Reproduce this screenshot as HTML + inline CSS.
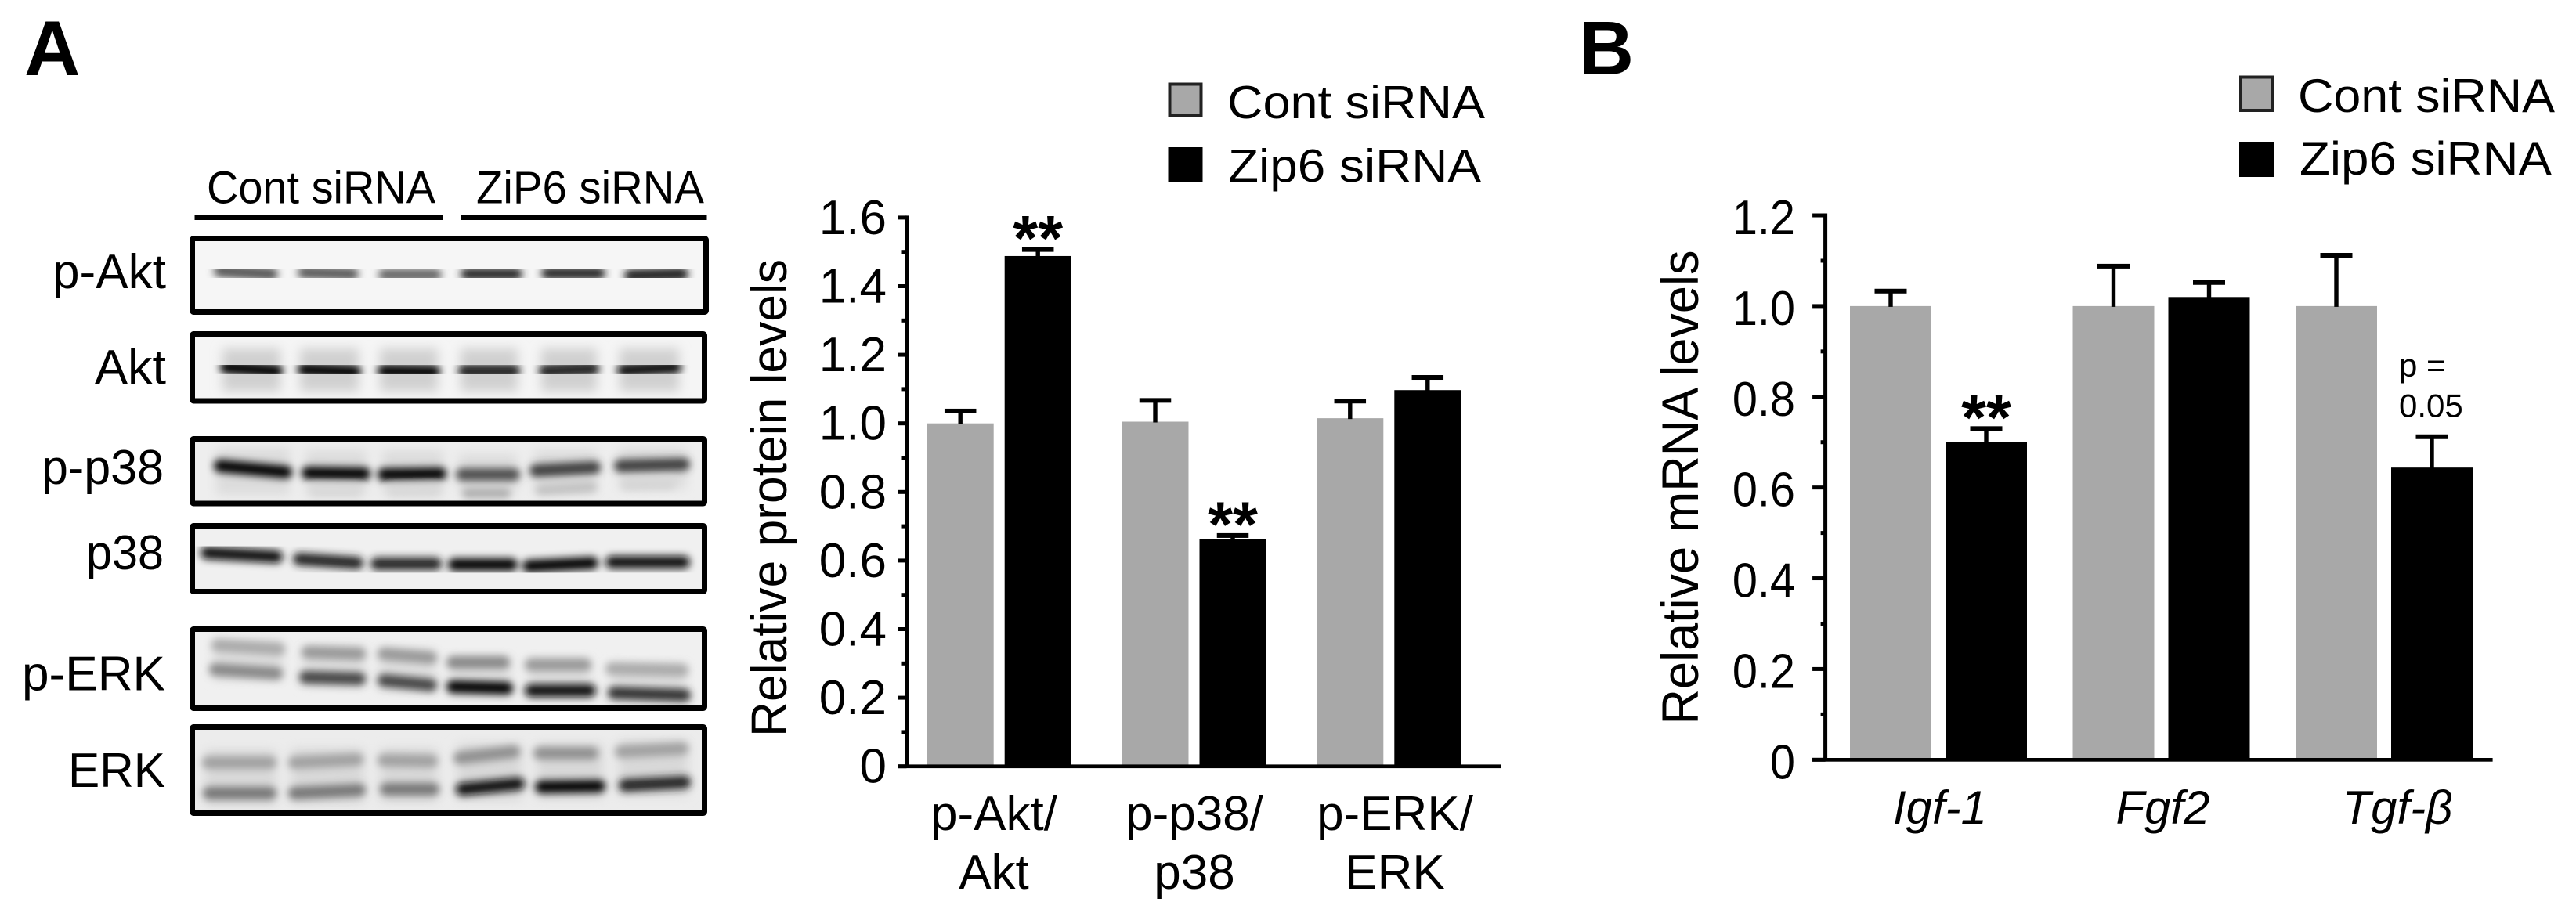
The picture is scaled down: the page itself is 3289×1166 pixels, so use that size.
<!DOCTYPE html>
<html lang="en">
<head>
<meta charset="utf-8">
<title>Zip6 siRNA western blots and bar charts</title>
<style>
html,body{margin:0;padding:0;background:#fff;}
body{width:3289px;height:1166px;overflow:hidden;}
svg{display:block;}
text{font-family:"Liberation Sans",Arial,sans-serif;fill:#000;}
.band{fill:none;stroke-linecap:round;stroke-width:16;}
.frame{fill:none;stroke:#000;stroke-width:7;}
</style>
</head>
<body>
<svg id="figure" xmlns="http://www.w3.org/2000/svg" width="3289" height="1166" viewBox="0 0 3289 1166">
<defs>
<filter id="blur" x="-20%" y="-50%" width="140%" height="200%"><feGaussianBlur stdDeviation="5"/></filter>
<filter id="smear" x="-20%" y="-50%" width="140%" height="200%"><feGaussianBlur stdDeviation="7"/></filter>
</defs>

<text x="31" y="96" font-size="99" font-weight="bold">A</text>
<text x="2016" y="95" font-size="97" font-weight="bold">B</text>

<g>
<text x="264" y="259.5" font-size="58" textLength="292" lengthAdjust="spacingAndGlyphs">Cont siRNA</text>
<text x="608" y="259.5" font-size="58" textLength="291" lengthAdjust="spacingAndGlyphs">ZiP6 siRNA</text>
<rect x="248.5" y="274" width="316.5" height="7"/>
<rect x="588.5" y="274" width="314" height="7"/>
</g>

<g font-size="62">
<text x="67" y="368" textLength="145" lengthAdjust="spacingAndGlyphs">p-Akt</text>
<text x="121" y="490" textLength="91" lengthAdjust="spacingAndGlyphs">Akt</text>
<text x="53" y="618" textLength="156" lengthAdjust="spacingAndGlyphs">p-p38</text>
<text x="110" y="727" textLength="99" lengthAdjust="spacingAndGlyphs">p38</text>
<text x="28" y="881.5" textLength="183" lengthAdjust="spacingAndGlyphs">p-ERK</text>
<text x="87" y="1005" textLength="124" lengthAdjust="spacingAndGlyphs">ERK</text>
</g>

<g>
<rect x="245" y="304" width="657" height="95" fill="#f6f6f6"/>
<g filter="url(#blur)" class="band">
<path d="M281 346L347 350" stroke="#555"/>
<path d="M388 348L450 350" stroke="#5a5a5a"/>
<path d="M491 351L556 351" stroke="#666"/>
<path d="M596 350L659 350" stroke="#2c2c2c"/>
<path d="M699 349L765 349" stroke="#2c2c2c"/>
<path d="M805 352L871 350" stroke="#1c1c1c"/>
</g>
<rect class="frame" x="245.5" y="304.5" width="656" height="94" rx="2"/>
</g>

<g>
<rect x="245" y="426" width="655" height="86" fill="#f5f5f5"/>
<g filter="url(#smear)" fill="#d0d0d0">
<rect x="284" y="445" width="74" height="55"/>
<rect x="383" y="445" width="75" height="55"/>
<rect x="485" y="445" width="74" height="55"/>
<rect x="588" y="445" width="73" height="55"/>
<rect x="691" y="445" width="71" height="55"/>
<rect x="791" y="445" width="76" height="55"/>
</g>
<g filter="url(#blur)" class="band">
<path d="M289 469L353 474" stroke="#000"/>
<path d="M388 472L453 475" stroke="#000"/>
<path d="M490 474L554 475" stroke="#000"/>
<path d="M593 474L656 474" stroke="#1a1a1a"/>
<path d="M696 474L757 471" stroke="#1a1a1a"/>
<path d="M796 473L862 469" stroke="#111"/>
</g>
<rect class="frame" x="245.5" y="426.5" width="654" height="85.5" rx="2"/>
</g>

<g>
<rect x="245" y="560" width="655" height="83" fill="#eeeeee"/>
<g filter="url(#smear)" fill="#dcdcdc">
<rect x="276" y="572" width="94" height="60"/>
<rect x="390" y="575" width="78" height="58"/>
<rect x="488" y="575" width="78" height="58"/>
<rect x="586" y="580" width="74" height="50"/>
<rect x="682" y="575" width="80" height="55"/>
<rect x="790" y="572" width="86" height="52"/>
</g>
<g filter="url(#blur)" class="band">
<path d="M281 595L365 603" stroke="#000"/>
<path d="M393 604L465 605" stroke="#000"/>
<path d="M490 606L562 605" stroke="#000"/>
<path d="M590 606L656 606" stroke="#4d4d4d"/>
<path d="M684 601L759 597" stroke="#3c3c3c"/>
<path d="M792 595L873 593" stroke="#3c3c3c"/>
<path d="M596 630L646 630" stroke="#aaa" style="stroke-width:12"/>
<path d="M690 626L756 622" stroke="#c0c0c0" style="stroke-width:12"/>
<path d="M799 620L856 619" stroke="#d4d4d4" style="stroke-width:12"/>
<path d="M402 628L455 628" stroke="#d8d8d8" style="stroke-width:12"/>
<path d="M502 628L556 627" stroke="#d8d8d8" style="stroke-width:12"/>
</g>
<rect class="frame" x="245.5" y="560.5" width="654" height="82.5" rx="2"/>
</g>

<g>
<rect x="245" y="671" width="655" height="85" fill="#f0f0f0"/>
<g filter="url(#blur)" class="band">
<path d="M264 706L353 711" stroke="#111"/>
<path d="M382 714L456 719" stroke="#222"/>
<path d="M481 720L556 720" stroke="#222"/>
<path d="M580 721L653 721" stroke="#000"/>
<path d="M675 723L756 719" stroke="#000"/>
<path d="M781 718L873 718" stroke="#111"/>
</g>
<rect class="frame" x="245.5" y="671.5" width="654" height="84" rx="2"/>
</g>

<g>
<rect x="245" y="803" width="655" height="102" fill="#f0f0f0"/>
<g filter="url(#smear)" fill="#dedede">
<rect x="272" y="818" width="90" height="50"/>
<rect x="386" y="826" width="80" height="50"/>
<rect x="484" y="830" width="72" height="52"/>
<rect x="574" y="840" width="78" height="50"/>
<rect x="674" y="842" width="80" height="50"/>
<rect x="780" y="848" width="96" height="48"/>
</g>
<g filter="url(#blur)" class="band">
<path d="M278 824L356 829" stroke="#aaa"/>
<path d="M393 833L459 835" stroke="#999"/>
<path d="M490 835L550 840" stroke="#999"/>
<path d="M578 846L643 846" stroke="#888"/>
<path d="M678 849L747 849" stroke="#999"/>
<path d="M781 854L871 856" stroke="#aaa"/>
<path d="M275 855L353 860" stroke="#888"/>
<path d="M390 865L459 867" stroke="#444"/>
<path d="M490 869L550 875" stroke="#444"/>
<path d="M578 877L647 879" stroke="#000"/>
<path d="M678 882L753 882" stroke="#111"/>
<path d="M784 885L874 888" stroke="#333"/>
</g>
<rect class="frame" x="245.5" y="803.5" width="654" height="101" rx="2"/>
</g>

<g>
<rect x="245" y="928" width="655" height="111" fill="#ececec"/>
<g filter="url(#smear)" fill="#d8d8d8">
<rect x="262" y="958" width="90" height="70"/>
<rect x="372" y="956" width="92" height="70"/>
<rect x="486" y="956" width="72" height="68"/>
<rect x="584" y="950" width="82" height="72"/>
<rect x="686" y="950" width="84" height="70"/>
<rect x="790" y="946" width="88" height="70"/>
</g>
<g filter="url(#blur)" class="band">
<path d="M266 974L345 974" stroke="#a0a0a0"/>
<path d="M376 974L456 970" stroke="#a0a0a0"/>
<path d="M490 971L551 972" stroke="#a0a0a0"/>
<path d="M587 968L656 960" stroke="#909090"/>
<path d="M689 962L756 962" stroke="#909090"/>
<path d="M793 960L871 956" stroke="#a0a0a0"/>
<path d="M267 1013L345 1013" stroke="#777"/>
<path d="M376 1013L459 1009" stroke="#777"/>
<path d="M493 1008L553 1008" stroke="#777"/>
<path d="M590 1008L662 1001" stroke="#111"/>
<path d="M691 1005L765 1004" stroke="#000"/>
<path d="M798 1003L874 999" stroke="#222"/>
</g>
<rect class="frame" x="245.5" y="928.5" width="654" height="110" rx="2"/>
</g>

<g>
<rect x="1493.5" y="107.5" width="40" height="40" fill="#a8a8a8" stroke="#222" stroke-width="4"/>
<text x="1567" y="151" font-size="59" textLength="329" lengthAdjust="spacingAndGlyphs">Cont siRNA</text>
<rect x="1491.5" y="188" width="44" height="44.5" fill="#000"/>
<text x="1568" y="232" font-size="59" textLength="323" lengthAdjust="spacingAndGlyphs">Zip6 siRNA</text>
</g>

<g>
<rect x="2861" y="98.5" width="40" height="42.5" fill="#a8a8a8" stroke="#222" stroke-width="4"/>
<text x="2934" y="143" font-size="60" textLength="328" lengthAdjust="spacingAndGlyphs">Cont siRNA</text>
<rect x="2859" y="181" width="44" height="45" fill="#000"/>
<text x="2936" y="223" font-size="60" textLength="322" lengthAdjust="spacingAndGlyphs">Zip6 siRNA</text>
</g>

<text transform="translate(1004 941) rotate(-90)" font-size="64" textLength="610" lengthAdjust="spacingAndGlyphs">Relative protein levels</text>
<text transform="translate(2168 925.5) rotate(-90)" font-size="66" textLength="606" lengthAdjust="spacingAndGlyphs">Relative mRNA levels</text>

<g id="chart-a"></g>
<g id="chart-b"></g>

<text x="3063" y="481" font-size="42">p =</text>
<text x="3063" y="532.7" font-size="42">0.05</text>
</svg>

<script>
const proteinLabelsTop = ['p-Akt/', 'p-p38/', 'p-ERK/'];
const proteinLabelsBottom = ['Akt', 'p38', 'ERK'];
const proteinCont = [1.0, 1.005, 1.015];
const proteinContErr = [0.036, 0.062, 0.05];
const proteinZip6 = [1.488, 0.662, 1.097];
const proteinZip6Err = [0.019, 0.011, 0.037];
const proteinZip6Marks = ['**', '**', ''];
const proteinTickLabels = ['0', '0.2', '0.4', '0.6', '0.8', '1.0', '1.2', '1.4', '1.6'];
const proteinTickValues = [0, 0.2, 0.4, 0.6, 0.8, 1.0, 1.2, 1.4, 1.6];
const proteinMinorTicks = [0.1, 0.3, 0.5, 0.7, 0.9, 1.1, 1.3, 1.5];

const mrnaLabels = ['Igf-1', 'Fgf2', 'Tgf-β'];
const mrnaCont = [1.0, 1.0, 1.0];
const mrnaContErr = [0.033, 0.088, 0.112];
const mrnaZip6 = [0.70, 1.02, 0.644];
const mrnaZip6Err = [0.03, 0.032, 0.068];
const mrnaZip6Marks = ['**', '', ''];
const mrnaTickLabels = ['0', '0.2', '0.4', '0.6', '0.8', '1.0', '1.2'];
const mrnaTickValues = [0, 0.2, 0.4, 0.6, 0.8, 1.0, 1.2];
const mrnaMinorTicks = [0.1, 0.3, 0.5, 0.7, 0.9, 1.1];

const NS = 'http://www.w3.org/2000/svg';
function mk(tag, attrs, parent) {
  const node = document.createElementNS(NS, tag);
  for (const k in attrs) node.setAttribute(k, attrs[k]);
  parent.appendChild(node);
  return node;
}

function drawChart(o) {
  const root = document.getElementById(o.id);
  const y = v => o.y0 - v * o.unit;
  const groupX = i => o.firstCenter + i * o.spacing;
  let el;

  o.cont.forEach((v, i) => {
    const x1 = groupX(i) - o.gap / 2 - o.barW;
    const x2 = groupX(i) + o.gap / 2;

    el = mk('rect', {x: x1, y: y(v), width: o.barW, height: o.y0 - y(v), fill: '#a8a8a8'}, root);
    
    

    el = mk('rect', {x: x2, y: y(o.zip6[i]), width: o.barW, height: o.y0 - y(o.zip6[i]), fill: '#000'}, root);
    
    

    const cx1 = x1 + o.barW / 2;
    const cx2 = x2 + o.barW / 2;
    const top1 = y(v + o.contErr[i]);
    const top2 = y(o.zip6[i] + o.zip6Err[i]);

    el = mk('rect', {x: cx1 - 2.7, y: top1, width: 5.4, height: y(v) - top1 + 1, fill: '#000'}, root);
    
    
    el = mk('rect', {x: cx1 - o.capW / 2, y: top1 - 3, width: o.capW, height: 6, fill: '#000'}, root);
    
    

    el = mk('rect', {x: cx2 - 2.7, y: top2, width: 5.4, height: y(o.zip6[i]) - top2 + 1, fill: '#000'}, root);
    
    
    el = mk('rect', {x: cx2 - o.capW / 2, y: top2 - 3, width: o.capW, height: 6, fill: '#000'}, root);
    
    

    if (o.marks[i]) {
      el = mk('text', {x: cx2, y: top2 + 14, 'font-size': 82, 'font-weight': 'bold', 'text-anchor': 'middle'}, root);
      el.textContent = o.marks[i];
      
      
    }
  });

  el = mk('rect', {x: o.axisX - 2.5, y: y(o.tickValues[o.tickValues.length - 1]) - 2.5, width: 5, height: o.y0 - y(o.tickValues[o.tickValues.length - 1]) + 4.5, fill: '#000'}, root);
  
  

  el = mk('rect', {x: o.axisX - o.majorLen, y: o.y0 - 2.3, width: o.xEnd - o.axisX + o.majorLen, height: 4.7, fill: '#000'}, root);
  
  

  o.tickValues.forEach((v, i) => {
    el = mk('rect', {x: o.axisX - o.majorLen, y: y(v) - 2.5, width: o.majorLen, height: 5, fill: '#000'}, root);
    
    

    el = mk('text', {transform: 'translate(' + o.labelRight + ' ' + (y(v) + o.tickBase) + ') scale(' + o.tickScale + ' 1)', 'font-size': o.tickFont, 'text-anchor': 'end'}, root);
    el.textContent = o.tickLabels[i];
    
    
  });

  o.minor.forEach(v => {
    el = mk('rect', {x: o.axisX - 6, y: y(v) - 2.5, width: 6, height: 5, fill: '#000'}, root);
    
    
  });
}

drawChart({
  id: 'chart-a', y0: 978.7, unit: 438, axisX: 1157.5, xEnd: 1917, majorLen: 11.5,
  firstCenter: 1275.7, spacing: 248.8, barW: 85, gap: 14, capW: 40.5,
  cont: proteinCont, contErr: proteinContErr, zip6: proteinZip6, zip6Err: proteinZip6Err, marks: proteinZip6Marks,
  tickValues: proteinTickValues, tickLabels: proteinTickLabels, minor: proteinMinorTicks,
  labelRight: 1132, tickBase: 21, tickScale: 1.0, tickFont: 62
});

drawChart({
  id: 'chart-b', y0: 970.3, unit: 579.4, axisX: 2330.6, xEnd: 3182.6, majorLen: 16.5,
  firstCenter: 2475, spacing: 284.5, barW: 104, gap: 18, capW: 41,
  cont: mrnaCont, contErr: mrnaContErr, zip6: mrnaZip6, zip6Err: mrnaZip6Err, marks: mrnaZip6Marks,
  tickValues: mrnaTickValues, tickLabels: mrnaTickLabels, minor: mrnaMinorTicks,
  labelRight: 2292, tickBase: 24, tickScale: 0.93, tickFont: 62
});

const chartA = document.getElementById('chart-a');
const chartB = document.getElementById('chart-b');

proteinLabelsTop.forEach((label, i) => {
  const cx = 1269 + 256 * i;
  let el = mk('text', {x: cx, y: 1060, 'font-size': 62, 'text-anchor': 'middle'}, chartA);
  el.textContent = label;
  
  
  el = mk('text', {x: cx, y: 1135, 'font-size': 62, 'text-anchor': 'middle'}, chartA);
  el.textContent = proteinLabelsBottom[i];
  
  
});

mrnaLabels.forEach((label, i) => {
  const nudge = label === 'Tgf-β' ? 17 : 2;
  const el = mk('text', {x: 2475 + 284.5 * i + nudge, y: 1052, 'font-size': 60, 'font-style': 'italic', 'text-anchor': 'middle'}, chartB);
  el.textContent = label;
  
  
});
</script>
</body>
</html>
